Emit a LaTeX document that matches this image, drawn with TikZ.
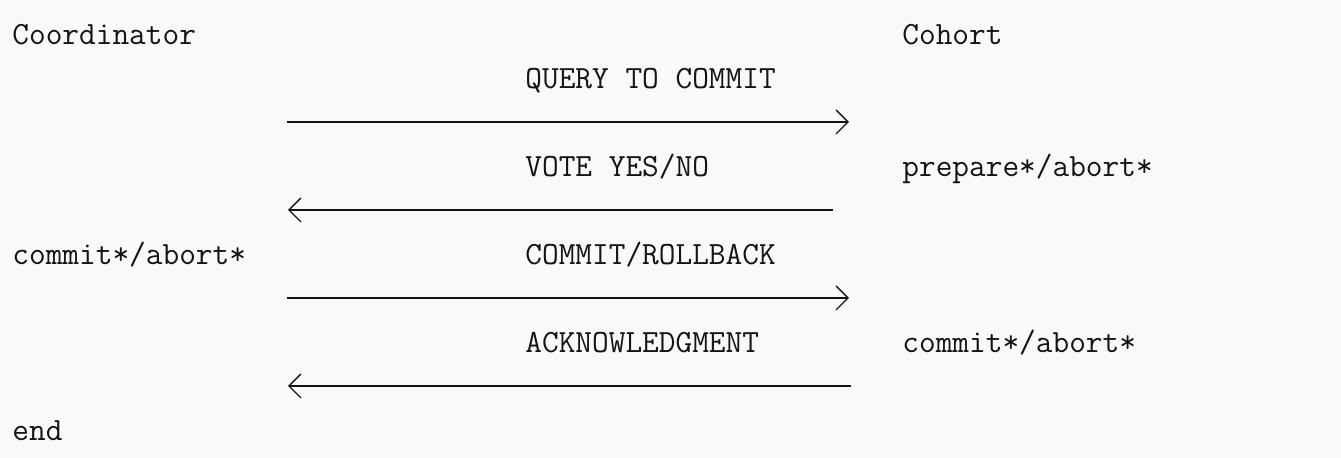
\documentclass[tikz,border=0pt]{standalone}
\usepackage{fontspec}
\usetikzlibrary{arrows.meta}
\definecolor{pagebg}{RGB}{248,249,251}
\definecolor{ink}{RGB}{20,20,20}
\begin{document}
\begin{tikzpicture}[x=0.5pt,y=-0.5pt,
  txt/.style={anchor=base west,inner sep=0pt,text=ink,font=\fontsize{16.2}{19}\ttfamily},
  msg/.style={draw=ink,line width=1pt,-{Straight Barb[length=6pt,width=12pt,line width=0.7pt]}}]

%background
\fill[pagebg] (0,0) rectangle (1341,458);
\useasboundingbox (0,0) rectangle (1341,458);

%parties
\node[txt] (coord) at (12,45) {Coordinator};
\node[txt] (cohort) at (902,45) {Cohort};

%messages
\node[txt] (query) at (525,89) {QUERY TO COMMIT};
\node[txt] (vote) at (525,177) {VOTE YES/NO};
\node[txt] (commit) at (525,265) {COMMIT/ROLLBACK};
\node[txt] (ack) at (525,353) {ACKNOWLEDGMENT};

%states
\node[txt] (prep) at (902,177) {prepare*/abort*};
\node[txt] (cdone) at (12,265) {commit*/abort*};
\node[txt] (hdone) at (902,353) {commit*/abort*};
\node[txt] (fin) at (12,441) {end};

% arrow ends
\coordinate (q0) at (287,122);
\coordinate (q1) at (849,122);
\coordinate (v0) at (833,210);
\coordinate (v1) at (288,210);
\coordinate (c0) at (287,298);
\coordinate (c1) at (849,298);
\coordinate (k0) at (851,386);
\coordinate (k1) at (288,386);

\draw[msg] (q0) -- (q1);
\draw[msg] (v0) -- (v1);
\draw[msg] (c0) -- (c1);
\draw[msg] (k0) -- (k1);

\end{tikzpicture}
\end{document}
